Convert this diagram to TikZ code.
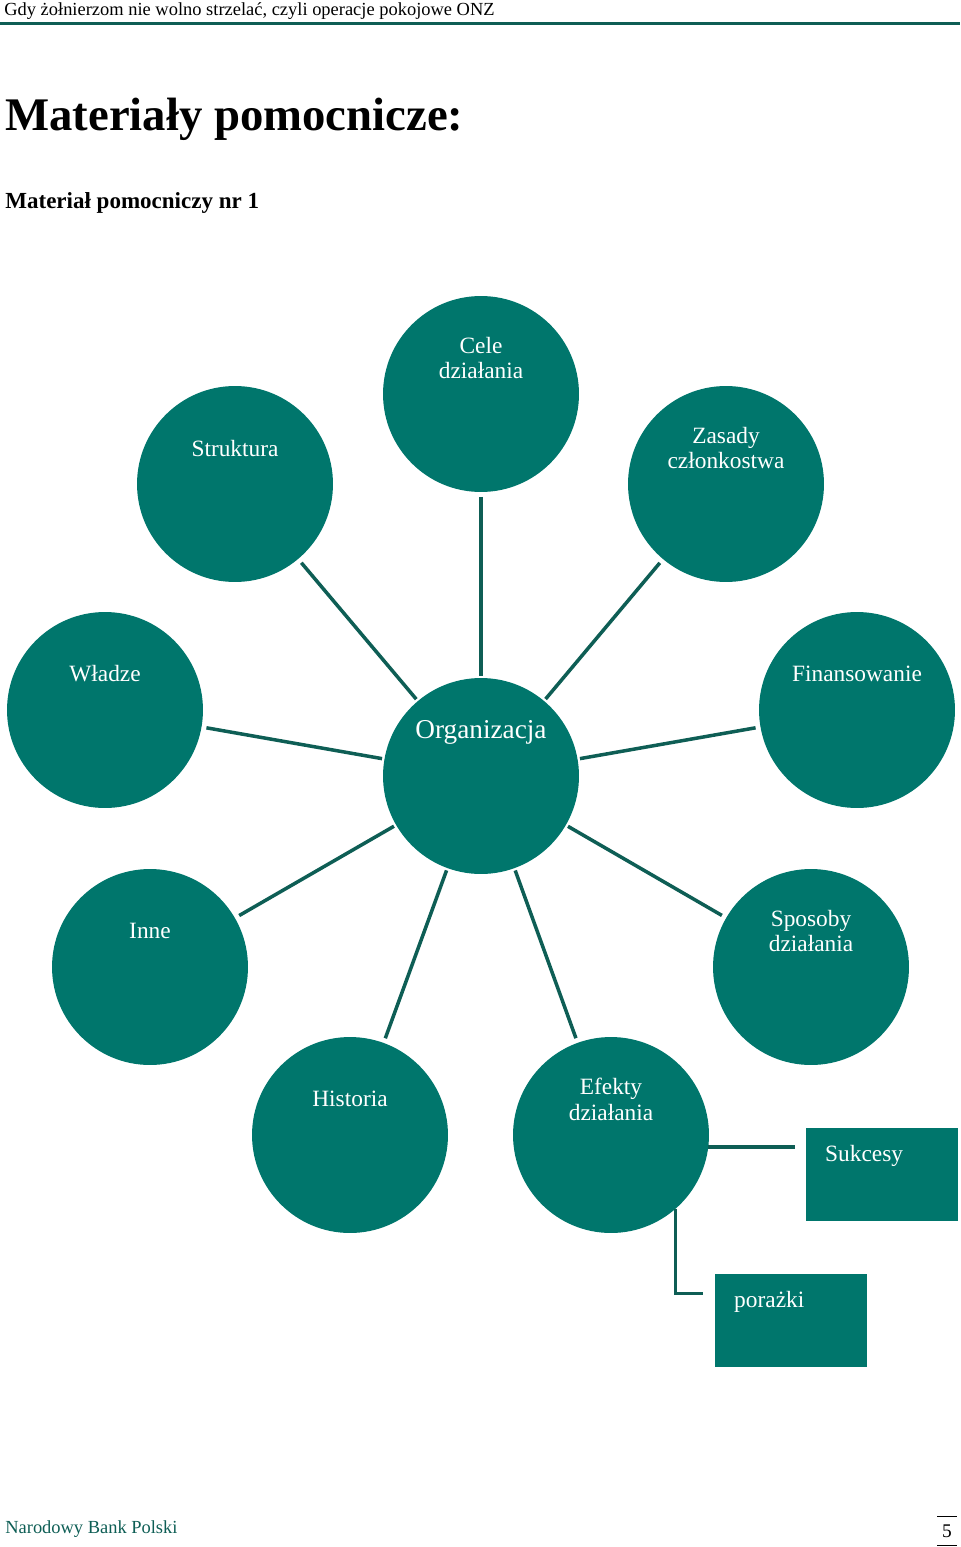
\documentclass[tikz,border=0pt]{standalone}
\usepackage{fontspec}
\setmainfont{Liberation Serif}
\usetikzlibrary{positioning}
\definecolor{nbpteal}{HTML}{00766C}
\definecolor{nbpline}{HTML}{0E5E55}

\begin{document}
\begin{tikzpicture}[
			x=0.02cm, y=-0.02cm,
			topic/.style={
				circle,
				fill=nbpteal,
				minimum size=3.92cm,
				inner sep=0pt,
				outer sep=0pt,
				label={[topiclabel]north:#1}
			},
			topiclabel/.style={
				anchor=center,
				yshift=-1.24cm,
				align=center,
				text=white,
				font=\fontsize{13.3}{14.7}\selectfont
			},
			result/.style={
				rectangle,
				fill=nbpteal,
				minimum width=3.04cm,
				minimum height=1.86cm,
				inner sep=0pt,
				outer sep=0pt,
				label={[anchor=west, xshift=0.26cm, yshift=-0.56cm, text=white,
					font=\fontsize{13.3}{14.7}\selectfont]north west:#1}
			},
			link/.style={
				draw=nbpline,
				line width=2pt,
				shorten <=0.1cm,
				shorten >=0.05cm
			}
			]
			\useasboundingbox (0,0) rectangle (960,1547);
			
			% Nagłówek strony
			\node[anchor=west, inner sep=0pt, font=\fontsize{10.5}{12}\selectfont] (header) at (4,11)
				{Gdy żołnierzom nie wolno strzelać, czyli operacje pokojowe ONZ};
			\draw[nbpline, line width=0.06cm] (0,24) -- (960,24);
			\node[anchor=base west, inner sep=0pt, font=\fontsize{26.6}{30}\selectfont\bfseries] (title) at (5,131)
				{Materiały pomocnicze:};
			\node[anchor=base west, inner sep=0pt, font=\fontsize{13.1}{15}\selectfont\bfseries] (subtitle) at (5,209)
				{Materiał pomocniczy nr 1};
			
			% Koło centralne
			\node[topic={}, label={[topiclabel, yshift=0.16cm, font=\fontsize{15.5}{18}\selectfont]north:Organizacja}] (org) at (481,776) {};
			
			% Koła zewnętrzne
			\node[topic={Cele\\działania}] (cele) at (481,394) {};
			\node[topic={Struktura}] (struktura) at (235,484) {};
			\node[topic={Zasady\\członkostwa}] (zasady) at (726,484) {};
			\node[topic={Władze}] (wladze) at (105,710) {};
			\node[topic={Finansowanie}] (finanse) at (857,710) {};
			\node[topic={Inne}] (inne) at (150,967) {};
			\node[topic={Sposoby\\działania}] (sposoby) at (811,967) {};
			\node[topic={Historia}] (historia) at (350,1135) {};
			\node[topic={Efekty\\działania}] (efekty) at (611,1135) {};
			
			% Prostokąty wyników
			\node[result={Sukcesy}] (sukcesy) at (882,1174) {};
			\node[result={porażki}] (porazki) at (791,1320) {};
			
			% Linie od kół zewnętrznych do centrum
			\foreach \n in {cele,struktura,zasady,wladze,finanse,inne,sposoby,historia,efekty}
				\draw[link] (\n) -- (org);
			
			% Linie od efektów do prostokątów
			\draw[link, shorten <=0pt, shorten >=0.22cm] (efekty.-7.6) -- (efekty.-7.6 -| sukcesy.west);
			\coordinate (porazkiin) at ([yshift=-0.4cm]porazki.north west);
			\draw[link, shorten <=0pt, shorten >=0.24cm] (efekty.-49) |- (porazkiin);
			
			% Stopka
			\node[anchor=west, inner sep=0pt, text=nbpline, font=\fontsize{10.5}{12}\selectfont] (footer) at (5,1529)
				{Narodowy Bank Polski};
			\node[inner sep=0pt, minimum width=0.38cm, minimum height=0.56cm, font=\fontsize{11}{12}\selectfont] (pnum) at (947,1531) {5};
			\draw[thin] (pnum.north west) -- (pnum.north east);
			\draw[thin] (pnum.south west) -- (pnum.south east);
			
		\end{tikzpicture}
\end{document}
